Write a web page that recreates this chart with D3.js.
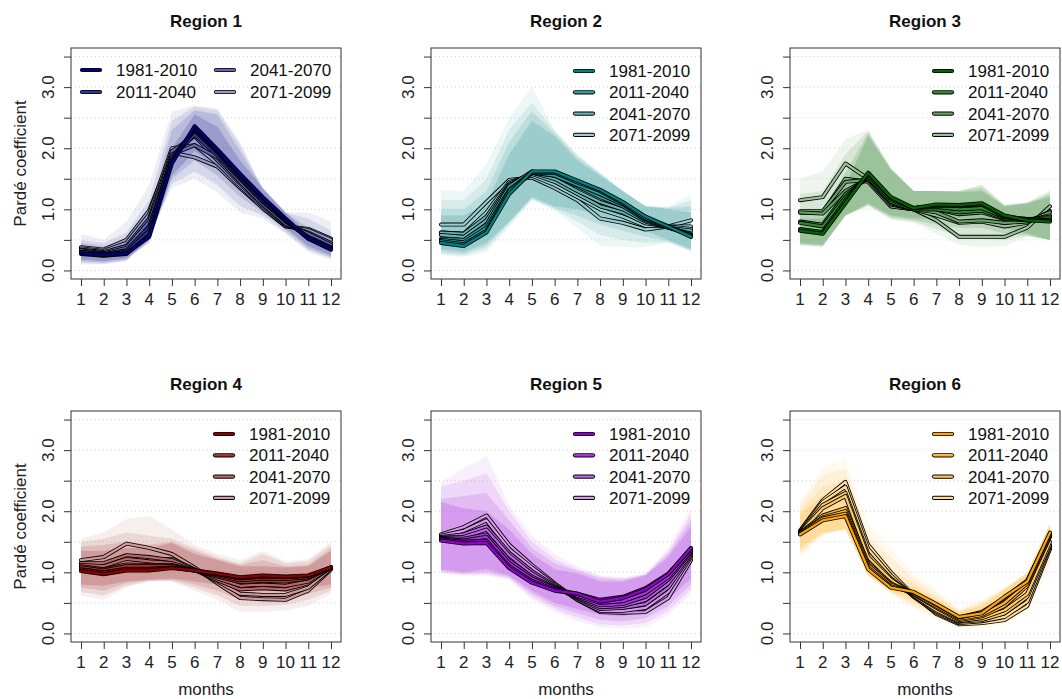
<!DOCTYPE html>
<html>
<head>
<meta charset="utf-8">
<script src="https://cdn.jsdelivr.net/npm/d3@7"></script>
<style>
  body { margin: 0; background: #fff; }
  svg { font-family: "Liberation Sans", Arial, sans-serif; }
</style>
</head>
<body>
<svg id="chart" width="1062" height="699"></svg>
<script>
var months = [1, 2, 3, 4, 5, 6, 7, 8, 9, 10, 11, 12];
var periods = ['1981-2010', '2011-2040', '2041-2070', '2071-2099'];
var regionNames = ['Region 1', 'Region 2', 'Region 3', 'Region 4', 'Region 5', 'Region 6'];
var baseColors = ['#000080', '#008282', '#006400', '#8B0000', '#9400D3', '#FFA500'];
var yTicks = [0, 0.5, 1, 1.5, 2, 2.5, 3, 3.5];
var yLabels = [0, 1, 2, 3];

// two lines per period (8 per region), then band lower/upper per period
var r1Lines = [
  [0.28,0.25,0.28,0.55,1.75,2.36,1.98,1.58,1.2,0.85,0.52,0.35],
  [0.27,0.24,0.27,0.58,1.8,2.33,1.95,1.55,1.18,0.83,0.52,0.34],
  [0.3,0.26,0.3,0.65,1.85,2.3,1.93,1.52,1.15,0.82,0.53,0.37],
  [0.3,0.27,0.33,0.72,1.85,2.22,1.88,1.5,1.12,0.8,0.55,0.38],
  [0.33,0.28,0.37,0.8,1.9,2.05,1.85,1.45,1.08,0.76,0.6,0.42],
  [0.34,0.3,0.4,0.85,1.95,2.2,1.8,1.42,1.05,0.75,0.62,0.45],
  [0.36,0.32,0.45,0.92,2.0,2.05,1.75,1.38,1.02,0.73,0.66,0.5],
  [0.38,0.34,0.5,0.98,1.93,1.85,1.7,1.35,1.02,0.72,0.68,0.52]
];
var r1Lo = [
  [0.18,0.15,0.2,0.45,1.55,1.95,1.7,1.35,1.0,0.7,0.4,0.25],
  [0.15,0.13,0.18,0.48,1.5,1.8,1.55,1.2,0.95,0.66,0.36,0.22],
  [0.12,0.11,0.16,0.52,1.42,1.62,1.4,1.05,0.9,0.62,0.33,0.2],
  [0.1,0.1,0.15,0.58,1.35,1.5,1.28,0.95,0.85,0.6,0.3,0.17]
];
var r1Hi = [
  [0.4,0.35,0.42,0.75,2.0,2.55,2.35,1.8,1.35,0.95,0.6,0.45],
  [0.45,0.4,0.5,0.95,2.3,2.62,2.55,1.95,1.35,0.95,0.7,0.55],
  [0.5,0.45,0.62,1.15,2.45,2.68,2.62,2.05,1.32,0.95,0.85,0.65],
  [0.6,0.5,0.8,1.4,2.6,2.7,2.65,2.1,1.35,0.95,0.95,0.8]
];

var r2Lines = [
  [0.45,0.4,0.62,1.25,1.62,1.62,1.47,1.32,1.12,0.88,0.72,0.55],
  [0.48,0.43,0.65,1.3,1.6,1.6,1.44,1.3,1.1,0.85,0.72,0.57],
  [0.5,0.46,0.7,1.32,1.6,1.55,1.4,1.25,1.08,0.84,0.7,0.58],
  [0.52,0.5,0.75,1.38,1.62,1.55,1.38,1.2,1.05,0.82,0.7,0.6],
  [0.58,0.55,0.82,1.4,1.6,1.5,1.3,1.12,1.0,0.8,0.7,0.65],
  [0.62,0.6,0.88,1.42,1.58,1.45,1.25,1.05,0.95,0.77,0.72,0.68],
  [0.62,0.6,0.95,1.45,1.55,1.4,1.2,1.0,0.88,0.73,0.72,0.72],
  [0.75,0.75,1.12,1.48,1.52,1.35,1.15,0.85,0.78,0.67,0.72,0.82]
];
var r2Lo = [
  [0.35,0.3,0.45,0.8,1.2,1.05,1.0,0.9,0.8,0.65,0.5,0.35],
  [0.3,0.27,0.4,0.78,1.18,1.02,0.9,0.75,0.65,0.55,0.48,0.33],
  [0.27,0.24,0.35,0.75,1.16,1.0,0.8,0.58,0.5,0.45,0.46,0.32],
  [0.25,0.22,0.3,0.7,1.15,0.98,0.7,0.4,0.38,0.38,0.45,0.3]
];
var r2Hi = [
  [0.9,0.9,1.1,1.9,2.45,2.2,1.8,1.55,1.3,1.05,1.0,0.95],
  [1.0,1.0,1.3,2.1,2.6,2.25,1.85,1.58,1.3,1.05,1.02,1.05],
  [1.15,1.15,1.5,2.3,2.75,2.28,1.88,1.6,1.3,1.05,1.03,1.15],
  [1.32,1.3,1.75,2.5,3.0,2.3,1.9,1.6,1.3,1.05,1.05,1.25]
];

var r3Lines = [
  [0.65,0.6,1.1,1.6,1.2,1.02,1.08,1.07,1.1,0.9,0.82,0.8],
  [0.68,0.63,1.15,1.58,1.18,1.02,1.06,1.06,1.08,0.88,0.84,0.82],
  [0.78,0.72,1.2,1.55,1.15,1.02,1.04,1.0,1.02,0.87,0.84,0.85],
  [0.8,0.75,1.25,1.52,1.12,1.0,1.0,0.95,0.98,0.85,0.83,0.88],
  [0.95,0.93,1.3,1.5,1.1,1.0,1.0,0.92,0.95,0.84,0.82,0.9],
  [0.97,0.97,1.45,1.48,1.08,1.0,0.95,0.8,0.82,0.78,0.8,0.95],
  [0.95,0.95,1.5,1.45,1.05,1.0,0.9,0.78,0.8,0.72,0.78,0.97],
  [1.15,1.2,1.75,1.5,1.05,1.0,0.82,0.55,0.55,0.55,0.7,1.05]
];
var r3Lo = [
  [0.45,0.42,0.9,1.1,0.9,0.85,0.85,0.85,0.85,0.7,0.6,0.5],
  [0.43,0.4,0.9,1.08,0.87,0.82,0.75,0.7,0.7,0.6,0.58,0.5],
  [0.42,0.39,0.9,1.06,0.85,0.8,0.68,0.55,0.52,0.5,0.56,0.5],
  [0.4,0.38,0.9,1.05,0.82,0.78,0.6,0.42,0.38,0.4,0.55,0.5]
];
var r3Hi = [
  [0.85,0.85,1.4,2.2,1.65,1.3,1.3,1.28,1.3,1.05,1.1,1.2],
  [1.0,1.0,1.6,2.25,1.66,1.3,1.3,1.3,1.35,1.06,1.1,1.25],
  [1.25,1.3,1.9,2.28,1.67,1.3,1.3,1.3,1.4,1.07,1.11,1.28],
  [1.5,1.62,2.15,2.3,1.68,1.3,1.3,1.3,1.4,1.08,1.12,1.32]
];

var r4Lines = [
  [1.02,0.97,1.03,1.03,1.07,1.03,0.98,0.92,0.95,0.93,0.95,1.08],
  [1.05,1.0,1.06,1.06,1.08,1.03,0.97,0.9,0.93,0.92,0.94,1.08],
  [1.08,1.03,1.1,1.1,1.1,1.03,0.95,0.87,0.9,0.89,0.92,1.08],
  [1.1,1.05,1.13,1.12,1.12,1.03,0.93,0.84,0.86,0.85,0.9,1.08],
  [1.12,1.1,1.22,1.18,1.15,1.04,0.9,0.78,0.8,0.78,0.85,1.08],
  [1.15,1.15,1.28,1.25,1.2,1.04,0.87,0.72,0.74,0.72,0.82,1.08],
  [1.15,1.12,1.25,1.22,1.22,1.05,0.85,0.65,0.63,0.63,0.75,1.06],
  [1.2,1.25,1.47,1.4,1.3,1.08,0.82,0.58,0.56,0.55,0.7,1.05]
];
var r4Lo = [
  [0.8,0.78,0.85,0.88,0.9,0.85,0.8,0.7,0.72,0.7,0.75,0.8],
  [0.75,0.7,0.82,0.87,0.88,0.8,0.7,0.55,0.58,0.58,0.65,0.75],
  [0.68,0.62,0.78,0.86,0.86,0.75,0.62,0.45,0.45,0.47,0.55,0.7],
  [0.62,0.55,0.75,0.85,0.85,0.7,0.55,0.35,0.35,0.38,0.45,0.65]
];
var r4Hi = [
  [1.35,1.35,1.4,1.4,1.48,1.3,1.2,1.1,1.1,1.08,1.1,1.35],
  [1.42,1.45,1.5,1.45,1.5,1.35,1.22,1.12,1.2,1.1,1.12,1.4],
  [1.5,1.55,1.65,1.6,1.55,1.4,1.25,1.15,1.3,1.15,1.18,1.45],
  [1.55,1.65,1.87,1.92,1.7,1.45,1.3,1.2,1.35,1.18,1.22,1.5]
];

var r5Lines = [
  [1.52,1.47,1.48,1.07,0.83,0.7,0.65,0.52,0.58,0.72,0.97,1.4],
  [1.54,1.5,1.52,1.1,0.86,0.72,0.65,0.55,0.6,0.74,0.98,1.38],
  [1.55,1.52,1.58,1.15,0.9,0.74,0.62,0.5,0.53,0.66,0.92,1.35],
  [1.56,1.55,1.62,1.2,0.93,0.75,0.6,0.46,0.48,0.6,0.88,1.33],
  [1.57,1.58,1.7,1.28,0.98,0.76,0.58,0.43,0.45,0.55,0.82,1.3],
  [1.58,1.62,1.75,1.32,1.02,0.78,0.57,0.4,0.42,0.48,0.75,1.28],
  [1.6,1.68,1.85,1.38,1.08,0.8,0.55,0.37,0.37,0.42,0.68,1.25],
  [1.62,1.74,1.93,1.45,1.12,0.82,0.55,0.35,0.34,0.35,0.58,1.2]
];
var r5Lo = [
  [1.05,1.0,1.05,0.95,0.7,0.5,0.4,0.3,0.28,0.35,0.55,0.9],
  [1.02,0.98,1.0,0.92,0.65,0.45,0.33,0.22,0.2,0.25,0.45,0.8],
  [1.0,0.96,0.97,0.9,0.6,0.4,0.26,0.15,0.13,0.17,0.37,0.72],
  [0.98,0.95,0.95,0.88,0.55,0.35,0.2,0.1,0.08,0.1,0.3,0.65]
];
var r5Hi = [
  [2.15,2.05,2.0,1.7,1.3,1.05,0.98,0.85,0.85,0.95,1.25,1.75],
  [2.2,2.25,2.3,1.85,1.4,1.15,1.02,0.9,0.88,0.96,1.3,1.85],
  [2.4,2.5,2.62,2.0,1.5,1.22,1.05,0.93,0.9,0.97,1.35,1.95],
  [2.48,2.7,2.9,2.1,1.6,1.3,1.1,0.95,0.92,0.98,1.4,2.05]
];

var r6Lines = [
  [1.62,1.85,1.92,1.05,0.75,0.68,0.48,0.27,0.33,0.6,0.85,1.65],
  [1.63,1.88,1.96,1.08,0.77,0.67,0.47,0.26,0.35,0.58,0.87,1.63],
  [1.64,1.9,2.0,1.12,0.8,0.65,0.44,0.24,0.3,0.5,0.82,1.6],
  [1.65,1.93,2.05,1.15,0.82,0.64,0.42,0.22,0.28,0.45,0.78,1.58],
  [1.65,2.05,2.25,1.25,0.88,0.62,0.38,0.2,0.25,0.38,0.65,1.5],
  [1.66,2.1,2.3,1.3,0.9,0.61,0.36,0.19,0.22,0.33,0.6,1.45],
  [1.67,2.15,2.4,1.38,0.95,0.6,0.34,0.17,0.2,0.27,0.52,1.42],
  [1.68,2.18,2.48,1.45,1.0,0.62,0.32,0.15,0.17,0.22,0.45,1.38]
];
var r6Lo = [
  [1.4,1.65,1.7,0.95,0.7,0.55,0.35,0.2,0.22,0.42,0.65,1.4],
  [1.35,1.63,1.7,0.95,0.68,0.5,0.3,0.15,0.17,0.32,0.55,1.3],
  [1.3,1.62,1.7,0.95,0.66,0.45,0.26,0.11,0.12,0.22,0.45,1.2],
  [1.25,1.6,1.7,0.95,0.65,0.4,0.22,0.08,0.08,0.15,0.35,1.1]
];
var r6Hi = [
  [1.95,2.25,2.3,1.25,0.9,0.75,0.55,0.35,0.45,0.72,0.98,1.78],
  [2.0,2.4,2.5,1.4,1.05,0.82,0.6,0.37,0.48,0.73,0.99,1.79],
  [2.1,2.6,2.7,1.6,1.25,0.9,0.66,0.38,0.52,0.74,1.0,1.8],
  [2.15,2.72,2.85,1.8,1.4,1.0,0.72,0.4,0.55,0.75,1.0,1.8]
];

var panels = [
  { lines: r1Lines, lo: r1Lo, hi: r1Hi },
  { lines: r2Lines, lo: r2Lo, hi: r2Hi },
  { lines: r3Lines, lo: r3Lo, hi: r3Hi },
  { lines: r4Lines, lo: r4Lo, hi: r4Hi },
  { lines: r5Lines, lo: r5Lo, hi: r5Hi },
  { lines: r6Lines, lo: r6Lo, hi: r6Hi }
];

var svg = d3.select('#chart');
var colLeft = [71, 431, 790];
var rowTop = [48, 411];
var boxW = 270, boxH = 231;
var fontSize = 17;

function periodColor(base, i) {
  return d3.interpolateRgb(base, '#ffffff')([0, 0.2, 0.4, 0.6][i]);
}

panels.forEach(function(p, r) {
  var col = r % 3, row = Math.floor(r / 3);
  var left = colLeft[col], top = rowTop[row];
  var base = baseColors[r];

  var x = d3.scaleLinear().domain([0.56, 12.44]).range([left, left + boxW]);
  var y = d3.scaleLinear().domain([-0.14, 3.64]).range([top + boxH, top]);

  var g = svg.append('g');

  // grid
  g.selectAll('line.grid').data(yTicks).enter().append('line')
    .attr('x1', left).attr('x2', left + boxW)
    .attr('y1', function(d) { return y(d); }).attr('y2', function(d) { return y(d); })
    .attr('stroke', '#d3d3d3').attr('stroke-width', 1).attr('stroke-dasharray', '1,3');

  // bands (widest/lightest first)
  var area = d3.area()
    .x(function(d, i) { return x(months[i]); })
    .y0(function(d) { return y(d[0]); })
    .y1(function(d) { return y(d[1]); });
  for (var k = 3; k >= 0; k--) {
    var pts = p.lo[k].map(function(v, i) { return [v, p.hi[k][i]]; });
    g.append('path').attr('d', area(pts))
      .attr('fill', periodColor(base, k)).attr('fill-opacity', 0.17);
  }

  // lines: black casing then colour, last period first so historical sits on top
  var line = d3.line()
    .x(function(d, i) { return x(months[i]); })
    .y(function(d) { return y(d); });
  for (var j = p.lines.length - 1; j >= 0; j--) {
    var per = Math.floor(j / 2);
    g.append('path').attr('d', line(p.lines[j]))
      .attr('fill', 'none').attr('stroke', '#000').attr('stroke-width', 4)
      .attr('stroke-linejoin', 'round').attr('stroke-linecap', 'round');
    g.append('path').attr('d', line(p.lines[j]))
      .attr('fill', 'none').attr('stroke', periodColor(base, per)).attr('stroke-width', 2.3)
      .attr('stroke-linejoin', 'round').attr('stroke-linecap', 'round');
  }

  // box
  g.append('rect').attr('x', left).attr('y', top).attr('width', boxW).attr('height', boxH)
    .attr('fill', 'none').attr('stroke', '#333').attr('stroke-width', 1);

  // y axis
  var yAxis = d3.axisLeft(y).tickValues(yTicks).tickSize(7).tickFormat('');
  g.append('g').attr('transform', 'translate(' + left + ',0)').call(yAxis)
    .call(function(s) { s.select('.domain').remove(); s.selectAll('line').attr('stroke', '#333'); });
  g.selectAll('text.ylab').data(yLabels).enter().append('text')
    .attr('transform', function(d) { return 'translate(' + (left - 22.5) + ',' + y(d) + ') rotate(-90)'; })
    .attr('text-anchor', 'middle').attr('dy', '0.35em')
    .attr('font-size', fontSize).attr('fill', '#222')
    .text(function(d) { return d3.format('.1f')(d); });

  // x axis
  var xAxis = d3.axisBottom(x).tickValues(months).tickSize(7).tickFormat('');
  g.append('g').attr('transform', 'translate(0,' + (top + boxH) + ')').call(xAxis)
    .call(function(s) { s.select('.domain').remove(); s.selectAll('line').attr('stroke', '#333'); });
  g.selectAll('text.xlab').data(months).enter().append('text')
    .attr('x', function(d) { return x(d); }).attr('y', top + boxH + 26)
    .attr('text-anchor', 'middle').attr('font-size', fontSize).attr('fill', '#222')
    .text(function(d) { return d; });

  // title
  g.append('text').attr('x', left + boxW / 2).attr('y', top - 21)
    .attr('text-anchor', 'middle').attr('font-size', fontSize).attr('font-weight', 'bold')
    .attr('fill', '#111').text(regionNames[r]);

  if (col === 0) {
    g.append('text')
      .attr('transform', 'translate(20,' + (top + boxH / 2) + ') rotate(-90)')
      .attr('text-anchor', 'middle').attr('dy', '0.35em')
      .attr('font-size', fontSize).attr('fill', '#222').text('Pardé coefficient');
  }
  if (row === 1) {
    g.append('text').attr('x', left + boxW / 2).attr('y', top + boxH + 53)
      .attr('text-anchor', 'middle').attr('font-size', fontSize).attr('fill', '#222').text('months');
  }

  // legend
  periods.forEach(function(name, i) {
    var lx, ly;
    if (r === 0) {
      lx = left + 11 + (i >= 2 ? 134 : 0);
      ly = top + 22 + (i % 2) * 22;
    } else {
      lx = left + boxW - 126;
      ly = top + 23 + i * 21.3;
    }
    g.append('line').attr('x1', lx).attr('x2', lx + 18).attr('y1', ly).attr('y2', ly)
      .attr('stroke', '#000').attr('stroke-width', 4.2).attr('stroke-linecap', 'round');
    g.append('line').attr('x1', lx).attr('x2', lx + 18).attr('y1', ly).attr('y2', ly)
      .attr('stroke', periodColor(base, i)).attr('stroke-width', 2.4).attr('stroke-linecap', 'round');
    g.append('text').attr('x', lx + 34).attr('y', ly).attr('dy', '0.35em')
      .attr('font-size', fontSize).attr('fill', '#111').text(name);
  });
});
</script>
</body>
</html>
